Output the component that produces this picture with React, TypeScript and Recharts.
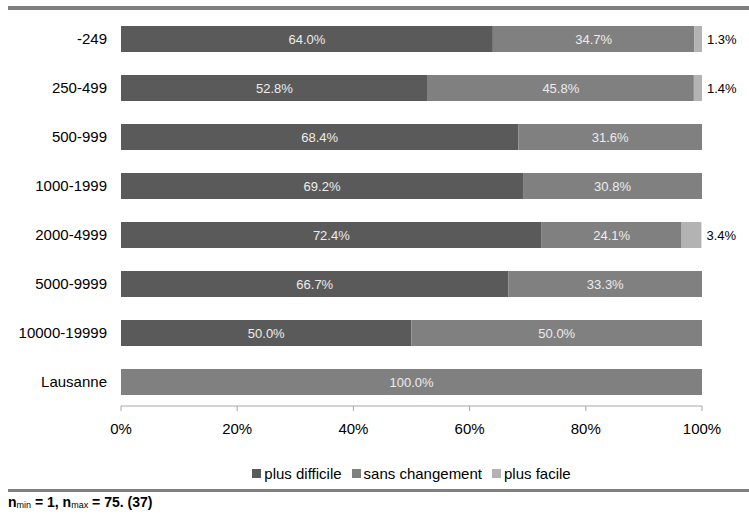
import React from 'react';
import { BarChart, Bar, XAxis, YAxis, LabelList } from 'recharts';

const categories = ['-249', '250-499', '500-999', '1000-1999', '2000-4999', '5000-9999', '10000-19999', 'Lausanne'];
const plusDifficile = [64.0, 52.8, 68.4, 69.2, 72.4, 66.7, 50.0, 0];
const sansChangement = [34.7, 45.8, 31.6, 30.8, 24.1, 33.3, 50.0, 100.0];
const plusFacile = [1.3, 1.4, 0, 0, 3.4, 0, 0, 0];
const xTicks = [0, 20, 40, 60, 80, 100];

const SERIES = [
    { key: 'plusDifficile', name: 'plus difficile', color: '#5a5a5a' },
    { key: 'sansChangement', name: 'sans changement', color: '#808080' },
    { key: 'plusFacile', name: 'plus facile', color: '#b3b3b3' },
];

const FONT = '"Liberation Sans", Arial, sans-serif';

const data = categories.map((name, i) => ({
    name,
    plusDifficile: plusDifficile[i],
    sansChangement: sansChangement[i],
    plusFacile: plusFacile[i],
}));

const InsideLabel = (props: any) => {
    const { x, y, width, height, value } = props;
    if (!value) return null;
    return (
        <text x={x + width / 2} y={y + height / 2} fill="#ececec" fontSize={13} fontFamily={FONT}
            textAnchor="middle" dominantBaseline="central">
            {`${Number(value).toFixed(1)}%`}
        </text>
    );
};

const OutsideLabel = (props: any) => {
    const { x, y, width, height, value } = props;
    if (!value) return null;
    return (
        <text x={x + width + 5} y={y + height / 2} fill="#000" fontSize={13} fontFamily={FONT}
            textAnchor="start" dominantBaseline="central">
            {`${Number(value).toFixed(1)}%`}
        </text>
    );
};

const subStyle: React.CSSProperties = { fontSize: 9, fontWeight: 'normal', verticalAlign: '-1px' };

const App: React.FC = () => {
    return (
        <div style={{ position: 'absolute', left: 0, top: 0, width: 749, height: 515, background: '#fff', fontFamily: FONT }}>
            <div style={{ position: 'absolute', left: 8, right: 0, top: 6, height: 4, background: '#808080' }} />
            <BarChart
                width={749}
                height={515}
                data={data}
                layout="vertical"
                margin={{ top: 14, right: 47, left: 0, bottom: 79 }}
                barSize={26}
            >
                <XAxis
                    type="number"
                    domain={[0, 100]}
                    ticks={xTicks}
                    tickFormatter={(v) => `${v}%`}
                    stroke="#a6a6a6"
                    tickSize={5}
                    tickMargin={12}
                    height={30}
                    tick={{ fill: '#000', fontSize: 15, fontFamily: FONT }}
                />
                <YAxis
                    dataKey="name"
                    type="category"
                    width={121}
                    axisLine={false}
                    tickLine={false}
                    tickMargin={8}
                    interval={0}
                    tick={{ fill: '#000', fontSize: 15, fontFamily: FONT }}
                />
                {SERIES.map((s) => (
                    <Bar key={s.key} dataKey={s.key} name={s.name} stackId="a" fill={s.color} isAnimationActive={false}>
                        <LabelList dataKey={s.key} content={s.key === 'plusFacile' ? OutsideLabel : InsideLabel} />
                    </Bar>
                ))}
            </BarChart>
            <div style={{ position: 'absolute', left: 0, width: 823, top: 465, display: 'flex', justifyContent: 'center', fontSize: 15, color: '#000' }}>
                {SERIES.map((s, i) => (
                    <span key={s.key} style={{ display: 'inline-flex', alignItems: 'center', marginLeft: i ? 10 : 0 }}>
                        <span style={{ display: 'inline-block', width: 9, height: 9, background: s.color, marginRight: 3 }} />
                        {s.name}
                    </span>
                ))}
            </div>
            <div style={{ position: 'absolute', left: 8, right: 0, top: 489, height: 3, background: '#808080' }} />
            <div style={{ position: 'absolute', left: 8, top: 494, fontSize: 14, fontWeight: 'bold', fontFamily: '"Liberation Sans Narrow", "Arial Narrow", ' + FONT, color: '#000', whiteSpace: 'pre' }}>
                n<span style={subStyle}>min</span> = 1, n<span style={subStyle}>max</span> = 75. (37)
            </div>
        </div>
    );
};

export default App;
